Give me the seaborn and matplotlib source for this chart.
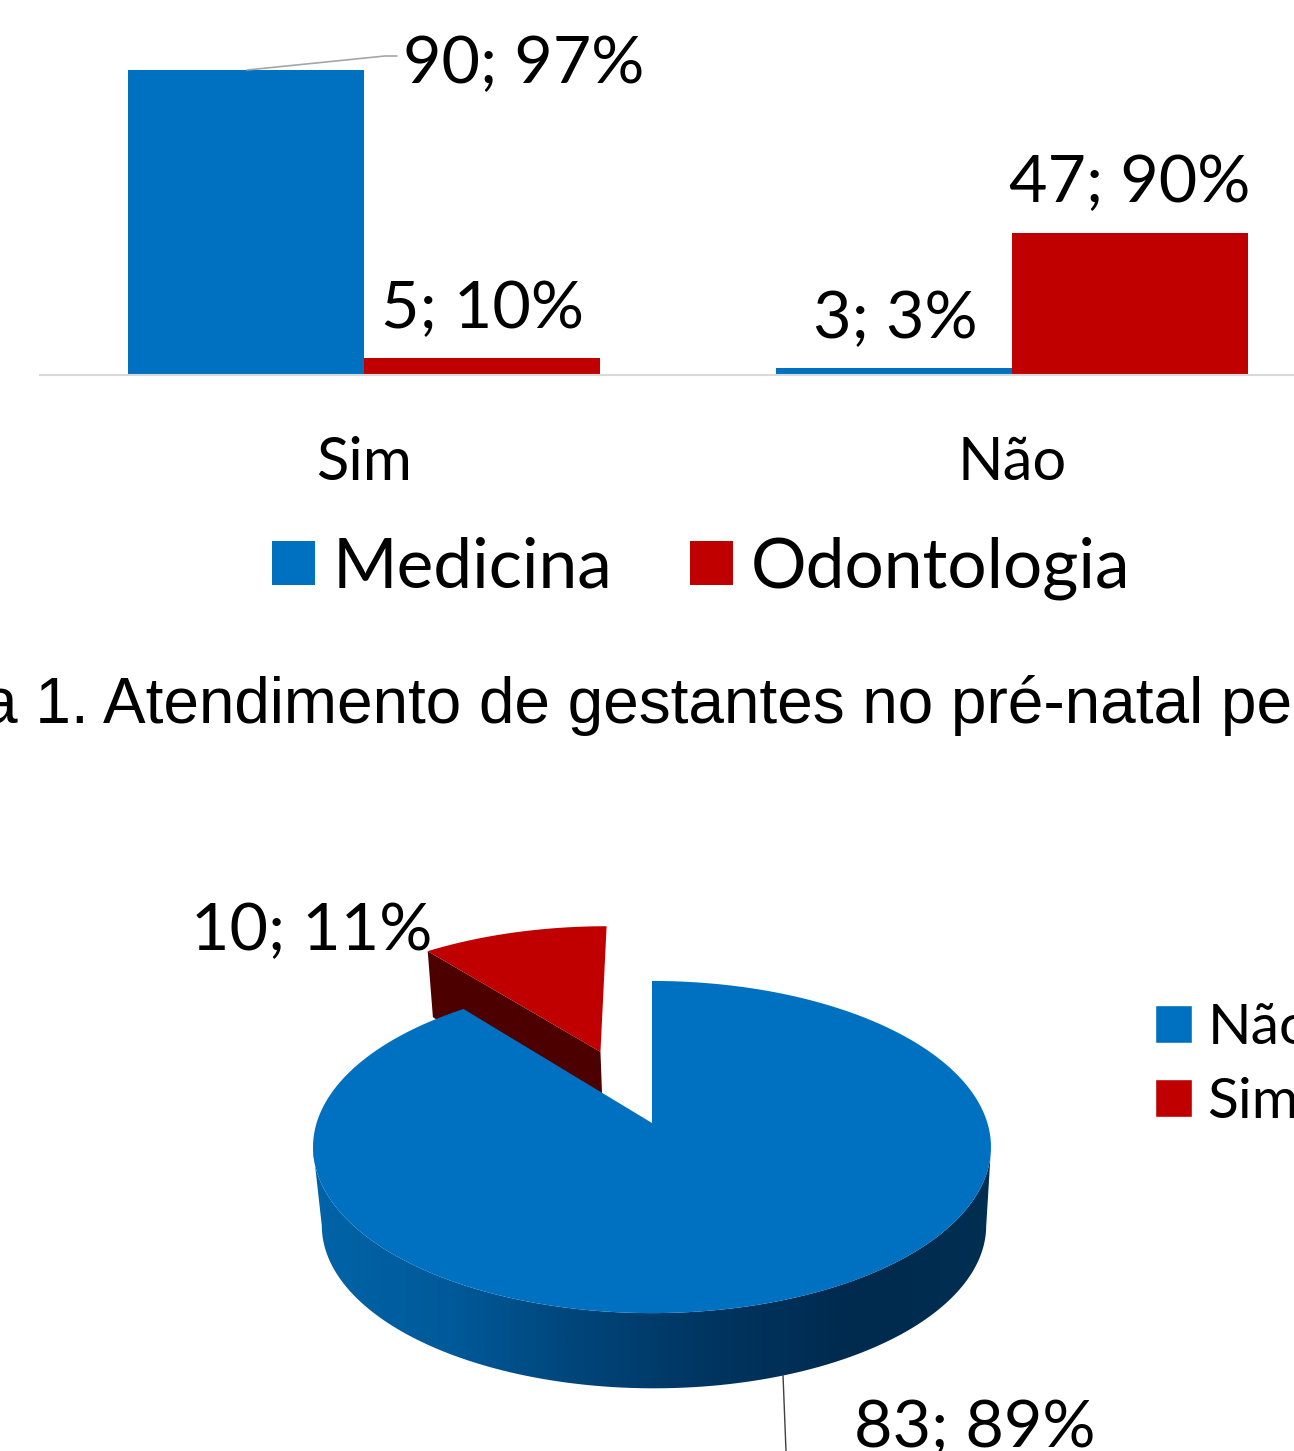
import numpy as np
import pandas as pd
import seaborn as sns
import matplotlib.pyplot as plt
from matplotlib.patches import Polygon, Patch

# Bar chart: Atendimento de gestantes
categories = ['Sim', 'Não']
courses = ['Medicina', 'Odontologia']
medicina = [90, 2.2]
odontologia = [5, 42]
bar_labels = ['90; 97%', '3; 3%', '5; 10%', '47; 90%']

# Pie chart
pie_names = ['Não', 'Sim']
pie_values = [83, 10]
pie_labels = ['83; 89%', '10; 11%']

BLUE = '#0070C0'
RED = '#C00000'
W, H = 1294, 1451

sns.set_theme(style='white')
plt.rcParams['font.family'] = ['Lato', 'DejaVu Sans']

fig = plt.figure(figsize=(W / 100, H / 100), dpi=100, facecolor='white')


def px_axes(left, top, right, bottom):
    return fig.add_axes([left / W, 1 - bottom / H, (right - left) / W, (bottom - top) / H])


# ------- Bars -------
dtf = pd.DataFrame({
    'resp': categories * 2,
    'curso': [courses[0]] * 2 + [courses[1]] * 2,
    'n': medicina + odontologia,
})
ax = px_axes(40, 0, 1336, 375)
sns.barplot(data=dtf, x='resp', y='n', hue='curso', order=categories, hue_order=courses,
            palette=[BLUE, RED], saturation=1, width=0.728, gap=0, linewidth=0, ax=ax)
ax.set_xlim(-0.5, 1.5)
ax.set_ylim(0, 375 / 3.39)
ax.set(xlabel=None, ylabel=None, yticks=[])
sns.despine(ax=ax, left=True)
ax.spines['bottom'].set_color('#d9d9d9')
ax.spines['bottom'].set_linewidth(1.5)
ax.tick_params(axis='x', length=0, pad=44, labelsize=43, labelcolor='black')
ax.legend(loc='upper left', bbox_to_anchor=(0.179, -0.43), ncol=2, frameon=False, fontsize=50,
          handlelength=0.62, handleheight=0.6, handletextpad=0.256, columnspacing=1.11,
          borderpad=0, borderaxespad=0, labelcolor='black')

# ------- Pie, drawn flat first and projected after -------
pax = px_axes(0, 0, W, H)
pax.set_facecolor('none')
wedges, _ = pax.pie(pie_values, explode=[0, 0.495], startangle=90, counterclock=False,
                    colors=[BLUE, RED])
for w in wedges:
    w.set_visible(False)

P = 0.1447


def project(pts, depth=False):
    u, v = pts[:, 0], pts[:, 1]
    den = 1 + P * v
    if depth:
        return np.c_[654 + 0.98 * 335.4 * u / den, 1202 - 0.98 * 162.6 * v / den]
    return np.c_[652 + 335.4 * u / den, 1123 - 162.6 * v / den]


def arc(w, n=240):
    t = np.radians(np.linspace(w.theta1, w.theta2, n))
    return np.asarray(w.center) + w.r * np.c_[np.cos(t), np.sin(t)]


# Red slice: inner wall first, its top on it
red = wedges[1]
red_arc = arc(red)
corner = red_arc[-1:]
apex = np.asarray(red.center)[None, :]
# far edge of the wall looks shorter
corner_low = project(corner) + 0.8 * (project(corner, True) - project(corner))
wall = np.vstack([project(apex), project(corner), corner_low, project(apex, True)])
pax.add_patch(Polygon(wall, fc='#4d0000', ec='none', zorder=2))
pax.add_patch(Polygon(project(np.vstack([apex, red_arc])), fc=RED, ec='none', zorder=3))

# Blue slice: outer wall with shading from left to right, between the widest points
blue = wedges[0]
blue_arc = arc(blue, 900)
front = blue_arc[blue_arc[:, 1] < -P]
shade = sns.blend_palette(['#0064a8', '#005a9a', '#004478', '#00345f', '#002a4e', '#002f52'],
                          as_cmap=True)
wall_poly = Polygon(np.vstack([project(front), project(front, True)[::-1]]), fc='none', ec='none',
                    transform=pax.transData)
pax.add_patch(wall_poly)
img = pax.imshow(np.linspace(0, 1, 512)[None, :], cmap=shade, aspect='auto', zorder=4,
                 extent=(310, 995, 1400, 1100))
img.set_clip_path(wall_poly)
pax.add_patch(Polygon(project(np.vstack([np.asarray(blue.center)[None, :], blue_arc])),
                      fc=BLUE, ec='none', zorder=5))

pax.set_aspect('auto')
pax.set_xlim(0, W)
pax.set_ylim(H, 0)
pax.axis('off')

pax.legend(handles=[Patch(fc=BLUE, label=pie_names[0]), Patch(fc=RED, label=pie_names[1])],
           loc='upper left', bbox_to_anchor=(1155 / W, 1 - 1003 / H), frameon=False, fontsize=41,
           handlelength=0.65, handleheight=0.65, handletextpad=0.27, labelspacing=0.41,
           borderpad=0, borderaxespad=0, labelcolor='black')

# ------- Texts and leader lines -------
text_kw = dict(color='black', fontsize=47.8, ha='left', va='baseline', zorder=8)
pax.text(403, 83, bar_labels[0], **text_kw)
pax.text(813, 338, bar_labels[1], **text_kw)
pax.text(381, 328, bar_labels[2], **text_kw)
pax.text(1009, 202, bar_labels[3], **text_kw)
pax.text(191, 950, pie_labels[1], **text_kw)
pax.text(854, 1447, pie_labels[0], clip_on=False, **text_kw)
pax.plot([247, 385, 397], [70, 56, 56], color='#a6a6a6', lw=1.2, zorder=6)
pax.plot([783, 786], [1375, 1451], color='#404040', lw=1, zorder=6)

pax.text(-18, 723, 'a 1. Atendimento de gestantes no pré-natal pe', family='Liberation Sans',
         color='black', fontsize=46, ha='left', va='baseline')

fig.savefig('out.png', dpi=100)
